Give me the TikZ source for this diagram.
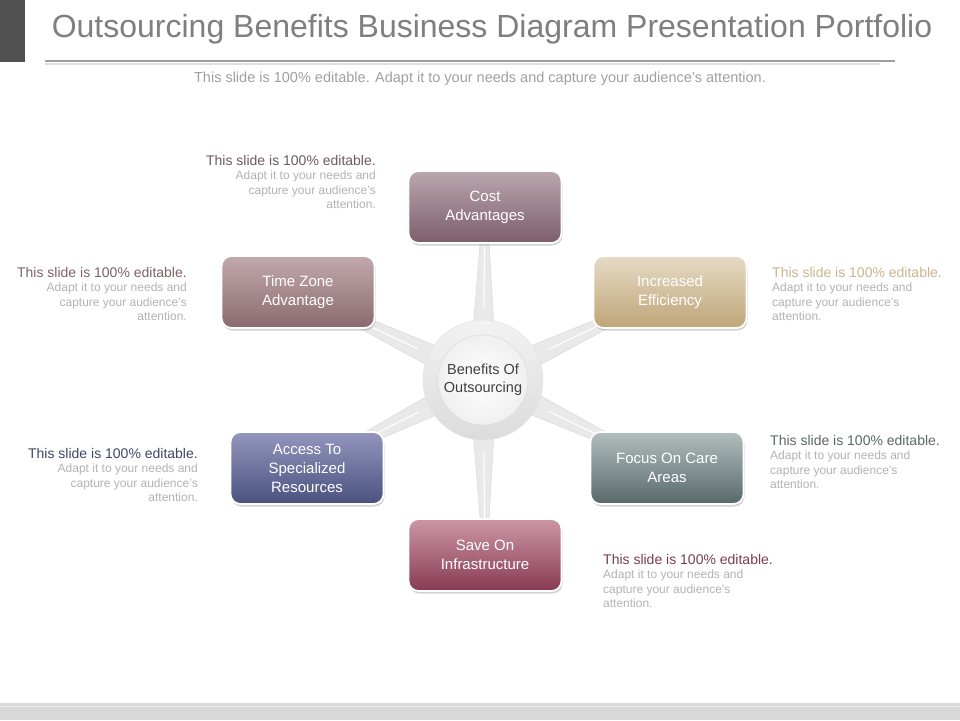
\documentclass[tikz,border=0pt]{standalone}
\usepackage{fontspec}
\setmainfont{Liberation Sans}
\usetikzlibrary{calc,shadows}
\pgfdeclarelayer{base}
\pgfdeclarelayer{bg}
\pgfsetlayers{base,bg,main}
\definecolor{titlegray}{HTML}{7F7F7F}
\definecolor{subgray}{HTML}{A0A0A0}
\definecolor{bargray}{HTML}{505050}
\definecolor{lightgray}{HTML}{B3B3B3}
\definecolor{spokegray}{HTML}{E9E9E9}
\definecolor{spokeedge}{HTML}{DADADA}
\definecolor{costT}{HTML}{BBA6AE}\definecolor{costB}{HTML}{7C5E6A}
\definecolor{timeT}{HTML}{C2A9AC}\definecolor{timeB}{HTML}{8A6A6F}
\definecolor{incrT}{HTML}{E6DAC6}\definecolor{incrB}{HTML}{BFA577}
\definecolor{accT}{HTML}{9397BE}\definecolor{accB}{HTML}{4A517E}
\definecolor{focT}{HTML}{B3BEBE}\definecolor{focB}{HTML}{586869}
\definecolor{saveT}{HTML}{CC97A5}\definecolor{saveB}{HTML}{883A53}
\definecolor{hCost}{HTML}{6E5A63}
\definecolor{hTime}{HTML}{7D6266}
\definecolor{hIncr}{HTML}{C9B58E}
\definecolor{hAcc}{HTML}{3F4766}
\definecolor{hFoc}{HTML}{5D6767}
\definecolor{hSave}{HTML}{7C3C52}
\tikzset{
  benefitbox/.style={rounded corners=10pt, minimum width=153pt, minimum height=72pt,
    draw=white, line width=1.8pt, text=white, align=center,
    font=\fontsize{15}{19}\selectfont,
    drop shadow={opacity=0.35, shadow xshift=1pt, shadow yshift=-2.5pt}},
  sidel/.style={align=right, anchor=north east, inner sep=0pt, text=lightgray,
    font=\fontsize{12}{14.5}\selectfont},
  sider/.style={align=left, anchor=north west, inner sep=0pt, text=lightgray,
    font=\fontsize{12}{14.5}\selectfont},
  spokeshape/.style={fill=spokegray, draw=spokeedge, line width=0.5pt},
}
\newcommand{\headline}[1]{{\color{#1}\fontsize{14}{15}\selectfont This slide is 100\% editable.}}
\begin{document}
\begin{tikzpicture}[x=1pt,y=-1pt]
\useasboundingbox (0,0) rectangle (960,720);
\begin{pgfonlayer}{base}
\fill[white] (0,0) rectangle (960,720);
\end{pgfonlayer}
% header
\fill[bargray] (0,0) rectangle (25,62);
\node[anchor=base, text=titlegray, font=\fontsize{32}{36}\selectfont, inner sep=0pt] (title) at (492,37)
  {Outsourcing Benefits Business Diagram Presentation Portfolio};
\draw[gray!75, line width=1.6pt] (45,61) -- (895,61);
\draw[gray!25, line width=1.2pt] (45,64) -- (880,64);
\node[anchor=base, text=subgray, font=\fontsize{14.5}{16}\selectfont, inner sep=0pt] (sub) at (480,82)
  {This slide is 100\% editable. Adapt it to your needs and capture your audience's attention.};
% footer band
\fill[gray!30] (0,703) rectangle (960,720);
\draw[gray!15, line width=1pt] (0,706.5) -- (960,706.5);
% center ring
\node[circle, minimum size=120pt, inner sep=0pt, top color=gray!10, bottom color=gray!28,
      draw=gray!20, line width=0.5pt] (ring) at (483,380) {};
\node[circle, minimum size=90pt, inner sep=0pt, inner color=white, outer color=gray!12,
      draw=gray!30, line width=0.4pt, align=center, text=black!75,
      font=\fontsize{14.5}{18}\selectfont] (ctr) at (483,380) {Benefits Of\\Outsourcing};
% boxes
\node[benefitbox, top color=costT, bottom color=costB] (cost) at (485,207) {Cost\\Advantages};
\node[benefitbox, top color=timeT, bottom color=timeB] (time) at (298,292) {Time Zone\\Advantage};
\node[benefitbox, top color=incrT, bottom color=incrB] (incr) at (670,292) {Increased\\Efficiency};
\node[benefitbox, top color=accT, bottom color=accB] (acc) at (307,468) {Access To\\Specialized\\Resources};
\node[benefitbox, top color=focT, bottom color=focB] (focus) at (667,468) {Focus On Care\\Areas};
\node[benefitbox, top color=saveT, bottom color=saveB] (save) at (485,555) {Save On\\Infrastructure};
% spokes
\begin{pgfonlayer}{bg}
\foreach \b in {cost,time,incr,acc,focus,save}{
  \path[spokeshape] ($(ring.center)!14pt!90:(\b.center)$) -- ($(\b.center)!2pt!-90:(ring.center)$)
     -- ($(\b.center)!2pt!90:(ring.center)$) -- ($(ring.center)!14pt!-90:(\b.center)$) -- cycle;
  \draw[white, line width=1.1pt] ($(ring.center)!72pt!(\b.center)$) -- (\b.center);
}
\end{pgfonlayer}
% side texts
\node[sidel] (tcost) at (376,155) {\headline{hCost}\\Adapt it to your needs and\\capture your audience's\\attention.};
\node[sidel] (ttime) at (187,267) {\headline{hTime}\\Adapt it to your needs and\\capture your audience's\\attention.};
\node[sider] (tincr) at (772,267) {\headline{hIncr}\\Adapt it to your needs and\\capture your audience's\\attention.};
\node[sidel] (tacc) at (198,448) {\headline{hAcc}\\Adapt it to your needs and\\capture your audience's\\attention.};
\node[sider] (tfoc) at (770,435) {\headline{hFoc}\\Adapt it to your needs and\\capture your audience's\\attention.};
\node[sider] (tsave) at (603,554) {\headline{hSave}\\Adapt it to your needs and\\capture your audience's\\attention.};
\end{tikzpicture}
\end{document}
